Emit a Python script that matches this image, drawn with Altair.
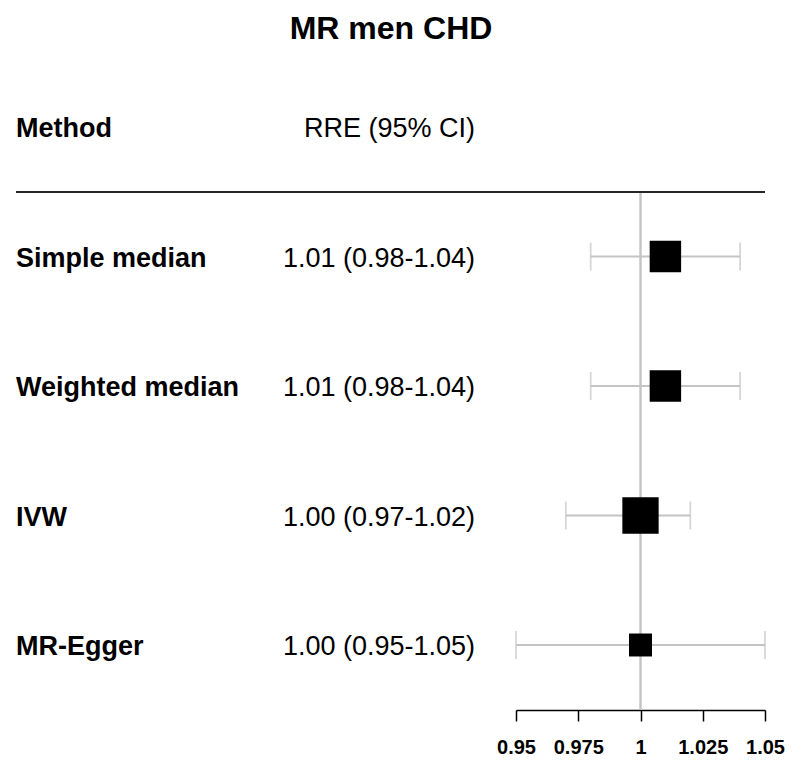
import altair as alt
import pandas as pd

title_text = "MR men CHD"
methods = ["Simple median", "Weighted median", "IVW", "MR-Egger"]
estimate = [1.01, 1.01, 1.00, 1.00]
lower = [0.98, 0.98, 0.97, 0.95]
upper = [1.04, 1.04, 1.02, 1.05]
labels = ["1.01 (0.98-1.04)", "1.01 (0.98-1.04)", "1.00 (0.97-1.02)", "1.00 (0.95-1.05)"]
weight = [0.75, 0.75, 1.00, 0.40]  # relative box area
tick_values = [0.95, 0.975, 1, 1.025, 1.05]
tick_labels = ["0.95", "0.975", "1", "1.025", "1.05"]

df = pd.DataFrame({"method": methods, "est": estimate, "lo": lower, "hi": upper,
                   "label": labels, "w": weight})
header = pd.DataFrame({"a": ["Method"], "b": ["RRE (95% CI)"], "t": [title_text]})

FONT = "Liberation Sans"
GREY = "#c4c4c4"
FS = 27

label_expr = "{" + ",".join(f"'{v}':'{l}'" for v, l in zip(tick_values, tick_labels)) + "}[datum.value]"
xaxis = alt.Axis(values=tick_values, labelExpr=label_expr, title=None, grid=False,
                 domainColor="black", domainWidth=1.5, tickColor="black", tickWidth=1.5,
                 tickSize=11, labelFontSize=20, labelFontWeight="bold", labelFont=FONT,
                 labelColor="black", labelPadding=16, labelFlush=False, labelOverlap=False)
xscale = alt.Scale(domain=[0.95, 1.05], range=[508, 757], nice=False, zero=False)
yscale = alt.Scale(type="point", domain=methods, range=[248.5, 637], padding=0)

base = alt.Chart(df)
Y = alt.Y("method:N", scale=yscale, axis=None)

ref = base.mark_rule(color=GREY, strokeWidth=1.5).encode(
    x=alt.X(datum=1, type="quantitative", scale=xscale, axis=xaxis),
    y=alt.value(184), y2=alt.value(702))

bars = base.mark_rule(color=GREY, strokeWidth=1.8).encode(
    x=alt.X("lo:Q", scale=xscale, axis=xaxis), x2="hi:Q", y=Y)

cap_lo = base.mark_tick(color=GREY, size=28, thickness=1.8).encode(
    x=alt.X("lo:Q", scale=xscale, axis=xaxis), y=Y)
cap_hi = base.mark_tick(color=GREY, size=28, thickness=1.8).encode(
    x=alt.X("hi:Q", scale=xscale, axis=xaxis), y=Y)

boxes = base.mark_square(color="black", opacity=1, filled=True).encode(
    x=alt.X("est:Q", scale=xscale, axis=xaxis), y=Y,
    size=alt.Size("w:Q", scale=alt.Scale(domain=[0, 1], range=[0, 1318], zero=True), legend=None))

names = base.mark_text(align="left", baseline="alphabetic", dy=10, fontSize=FS,
                       fontWeight="bold", font=FONT, color="black").encode(
    x=alt.value(8), y=Y, text="method:N")
vals = base.mark_text(align="right", baseline="alphabetic", dy=10, fontSize=FS,
                      font=FONT, color="black").encode(
    x=alt.value(467), y=Y, text="label:N")

hb = alt.Chart(header)
h1 = hb.mark_text(align="left", baseline="alphabetic", fontSize=FS, fontWeight="bold",
                  font=FONT, color="black").encode(x=alt.value(8), y=alt.value(129.3), text="a:N")
h2 = hb.mark_text(align="right", baseline="alphabetic", fontSize=FS,
                  font=FONT, color="black").encode(x=alt.value(467), y=alt.value(129.3), text="b:N")
ttl = hb.mark_text(align="center", baseline="alphabetic", fontSize=32, fontWeight="bold",
                   font=FONT, color="black").encode(x=alt.value(383), y=alt.value(31), text="t:N")
hline = hb.mark_rule(color="#262626", strokeWidth=2).encode(
    x=alt.value(8), x2=alt.value(757), y=alt.value(184))

chart = alt.layer(ref, bars, cap_lo, cap_hi, boxes, names, vals, h1, h2, ttl, hline).properties(
    width=784, height=702, autosize="none",
    padding={"left": 0, "right": 0, "top": 0, "bottom": 52},
).configure(font=FONT, background="white").configure_view(strokeWidth=0, stroke="transparent")

chart.save("out.html", embed_options={"renderer": "svg", "actions": False})
